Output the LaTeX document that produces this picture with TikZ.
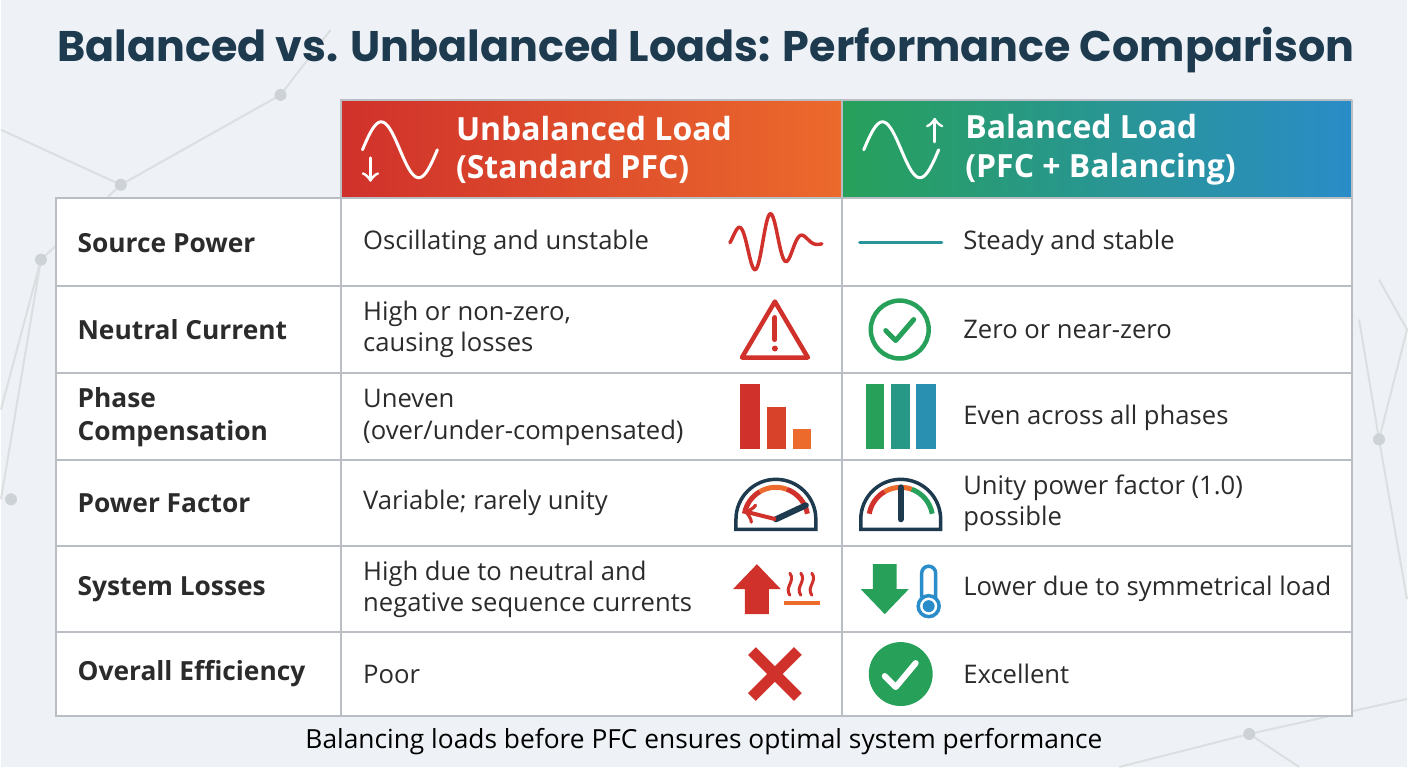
\documentclass[tikz,border=0pt]{standalone}
\usepackage{fontspec}
\setmainfont{Open Sans}
\newfontfamily\titlefont{Poppins}
\usetikzlibrary{positioning,calc}
\definecolor{navy}{HTML}{1D3A4F}
\definecolor{bgc}{HTML}{EEF2F6}
\definecolor{redc}{HTML}{D0312B}
\definecolor{orangec}{HTML}{EC6A2C}
\definecolor{greenc}{HTML}{27A05A}
\definecolor{bluec}{HTML}{2A8CC8}
\definecolor{gridc}{HTML}{B8BEC4}
\definecolor{textc}{HTML}{2B2B2B}
\tikzset{
  rowlabel/.style={anchor=west,inner sep=0pt,font=\fontsize{7.5}{9.4}\selectfont\bfseries,text=textc,align=left},
  celltext/.style={anchor=west,inner sep=0pt,font=\fontsize{7.3}{9}\selectfont,text=textc,align=left},
  headtext/.style={anchor=west,inner sep=0pt,font=\fontsize{9.1}{11}\selectfont\bfseries,text=white,align=left},
  icon/.style={line width=0.35mm,line cap=round,line join=round},
}
\begin{document}
\begin{tikzpicture}[x=0.1mm,y=-0.1mm]
  % background
  \fill[bgc] (0,0) rectangle (1408,768);
  \draw[gridc!50,line width=0.2mm] (0,130)--(120,185)--(280,95)--(330,30) (0,410)--(40,260)--(120,185) (0,500)--(40,260)
     (1380,280)--(1408,330)--(1380,440)--(1408,600) (1380,440)--(1360,320) (1120,768)--(1250,735)--(1408,700) (1250,735)--(1300,768);
  \foreach \p in {(120,185),(280,95),(40,260),(1380,440),(1250,735),(10,500)}
    \fill[gridc!70] \p circle (0.6mm);
  % title
  \node[font=\titlefont\fontsize{12.2}{14}\selectfont\bfseries,text=navy] (title) at (706,50) {Balanced vs. Unbalanced Loads: Performance Comparison};
  % table body
  \fill[white] (55,198) rectangle (1353,717);
  \fill[left color=redc,right color=orangec] (340,100) rectangle (842,198);
  \fill[left color=greenc,right color=bluec] (842,100) rectangle (1353,198);
  \foreach \y in {286,374,461,547,633}
    \draw[gridc,line width=0.2mm] (55,\y) -- (1353,\y);
  \draw[gridc,line width=0.2mm] (55,198) rectangle (1353,717);
  \draw[gridc,line width=0.2mm] (340,100) -- (340,717) (842,100) -- (842,717) (340,100) -- (1353,100) (1353,100) -- (1353,198);
  % headers
  \node[headtext] (hunbal) at (455,150) {Unbalanced Load\\(Standard PFC)};
  \node[headtext] (hbal) at (965,150) {Balanced Load\\(PFC + Balancing)};
  \draw[white,icon,line width=0.3mm] plot[domain=0:360,samples=40] ({362+\x/360*75},{150-28*sin(\x)});
  \draw[white,icon,line width=0.3mm,->] (370,158) -- (370,182);
  \draw[white,icon,line width=0.3mm] plot[domain=0:360,samples=40] ({864+\x/360*75},{150-28*sin(\x)});
  \draw[white,icon,line width=0.3mm,->] (935,142) -- (935,118);
  % row labels
  \node[rowlabel] (r1) at (76,243) {Source Power};
  \node[rowlabel] (r2) at (76,330) {Neutral Current};
  \node[rowlabel] (r3) at (76,418) {Phase\\Compensation};
  \node[rowlabel] (r4) at (76,504) {Power Factor};
  \node[rowlabel] (r5) at (76,590) {System Losses};
  \node[rowlabel] (r6) at (76,675) {Overall Efficiency};
  % unbalanced column
  \node[celltext] (u1) at (362,243) {Oscillating and unstable};
  \node[celltext] (u2) at (362,330) {High or non-zero,\\causing losses};
  \node[celltext] (u3) at (362,418) {Uneven\\(over/under-compensated)};
  \node[celltext] (u4) at (362,504) {Variable; rarely unity};
  \node[celltext] (u5) at (362,590) {High due to neutral and\\negative sequence currents};
  \node[celltext] (u6) at (362,675) {Poor};
  % balanced column
  \node[celltext] (b1) at (963,243) {Steady and stable};
  \node[celltext] (b2) at (963,330) {Zero or near-zero};
  \node[celltext] (b3) at (963,418) {Even across all phases};
  \node[celltext] (b4) at (963,504) {Unity power factor (1.0)\\possible};
  \node[celltext] (b5) at (963,590) {Lower due to symmetrical load};
  \node[celltext] (b6) at (963,675) {Excellent};
  % icons, row 1
  \draw[redc,icon] plot[domain=0:92,samples=80] ({730+\x},{243-30*exp(-((\x-35)/32)^2)*sin(\x*11)});
  \draw[bluec!60!greenc,icon] (860,243) -- (942,243);
  % row 2
  \draw[redc,line width=0.45mm,line join=round] (775,302) -- (808,358) -- (742,358) -- cycle;
  \draw[redc,line width=0.5mm,line cap=round] (775,318) -- (775,340);
  \fill[redc] (775,349) circle (0.3mm);
  \draw[greenc,line width=0.45mm] (900,330) circle (2.9mm);
  \draw[greenc,icon,line width=0.5mm] (886,331) -- (896,341) -- (914,320);
  % row 3
  \fill[redc] (740,385) rectangle (760,450);
  \fill[redc!70!orangec] (767,408) rectangle (786,450);
  \fill[orangec] (793,430) rectangle (811,450);
  \fill[greenc] (866,385) rectangle (884,450);
  \fill[greenc!60!bluec] (891,385) rectangle (910,450);
  \fill[bluec!80!greenc] (916,385) rectangle (936,450);
  % row 4 gauges
  \foreach \cx/\arc in {776/redc,901/greenc}{
    \draw[navy,line width=0.35mm] (\cx-40,530) -- (\cx-40,520) arc (180:0:4mm) -- (\cx+40,530) -- cycle;
    \draw[redc,line width=0.5mm] ($(\cx,520)+(170:3.2mm)$) arc (170:120:3.2mm);
    \draw[orangec,line width=0.5mm] ($(\cx,520)+(120:3.2mm)$) arc (120:70:3.2mm);
    \draw[\arc,line width=0.5mm] ($(\cx,520)+(70:3.2mm)$) arc (70:10:3.2mm);
  }
  \draw[navy,line width=0.6mm,line cap=round] (776,520) -- ++(30,-14);
  \draw[redc,line width=0.4mm,->] (776,520) -- (744,512);
  \draw[navy,line width=0.6mm,line cap=round] (901,520) -- (901,488);
  % row 5
  \fill[redc] (745,615) -- (745,590) -- (733,590) -- (757,565) -- (781,590) -- (769,590) -- (769,615) -- cycle;
  \foreach \dx in {790,801,812}
    \draw[redc,icon,line width=0.3mm] (\dx,596) .. controls (\dx-6,588) and (\dx+6,582) .. (\dx,574);
  \draw[orangec,line width=0.35mm] (784,604) -- (820,604);
  \fill[greenc] (873,565) -- (873,590) -- (861,590) -- (885,615) -- (909,590) -- (897,590) -- (897,565) -- cycle;
  \draw[bluec,line width=0.35mm] (922,598) -- (922,574) arc (180:0:0.7mm) -- (936,598);
  \draw[bluec,line width=0.35mm] (929,607) circle (1.05mm);
  \fill[bluec] (929,607) circle (0.6mm);
  % row 6
  \draw[redc,line width=1.1mm] (752,652) -- (798,698) (798,652) -- (752,698);
  \fill[greenc] (901,675) circle (3.2mm);
  \draw[white,icon,line width=0.6mm] (885,677) -- (896,688) -- (916,664);
  % footer
  \node[font=\fontsize{7.5}{9}\selectfont,text=black] (foot) at (704,743) {Balancing loads before PFC ensures optimal system performance};
\end{tikzpicture}
\end{document}
